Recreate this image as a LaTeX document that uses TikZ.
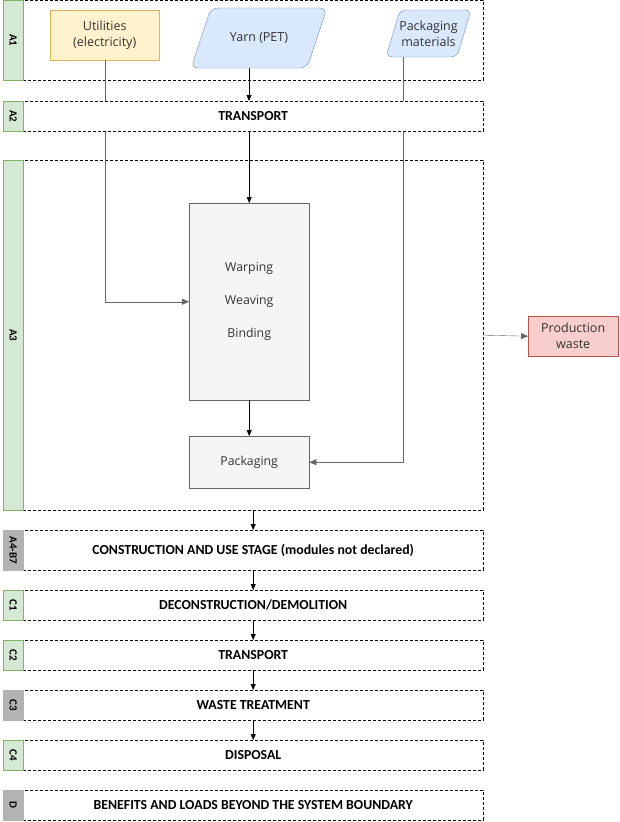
\documentclass[tikz,border=0pt]{standalone}
\usepackage{fontspec}
\setmainfont{Open Sans}
\newfontfamily\stagefont{Carlito}
\usetikzlibrary{arrows.meta}
\definecolor{tabgreen}{HTML}{D5E8D4}
\definecolor{tabgreenline}{HTML}{82B366}
\definecolor{tabgray}{HTML}{B3B3B3}
\definecolor{utilfill}{HTML}{FFF2CC}
\definecolor{utilline}{HTML}{D6B656}
\definecolor{bluefill}{HTML}{DAE8FC}
\definecolor{blueline}{HTML}{6C8EBF}
\definecolor{procfill}{HTML}{F5F5F5}
\definecolor{procline}{HTML}{666666}
\definecolor{redfill}{HTML}{F8CECC}
\definecolor{redline}{HTML}{B85450}
\definecolor{txtgray}{HTML}{333333}
\begin{document}
\begin{tikzpicture}[x=1pt,y=-1pt,
  stagebox/.style={draw, dash pattern=on 3pt off 2pt, fill=white, minimum width=460pt, inner sep=0pt, anchor=north west, font=\stagefont\bfseries\fontsize{13.8}{16}\selectfont},
  areabox/.style={draw, dash pattern=on 3pt off 2pt, fill=white, minimum width=460pt, inner sep=0pt, anchor=north west},
  tabg/.style={draw=tabgreenline, fill=tabgreen, minimum width=20pt, inner sep=0pt, anchor=north west},
  tabk/.style={draw=tabgray, fill=tabgray, minimum width=20pt, inner sep=0pt, anchor=north west},
  tablabel/.style={rotate=-90, font=\stagefont\bfseries\fontsize{11}{12}\selectfont, inner sep=0pt},
  procbox/.style={draw=procline, fill=procfill, minimum width=120pt, inner sep=0pt, text=txtgray, font=\fontsize{12.3}{33}\selectfont, align=center},
  inlabel/.style={text=txtgray, font=\fontsize{12.5}{16}\selectfont, align=center, inner sep=0pt},
  blk/.style={-{Triangle[length=6pt,width=5pt]}, black},
  gry/.style={-{Triangle[length=7pt,width=6pt]}, procline}
]
\useasboundingbox (0,0) rectangle (619,822);

% A1
\node[areabox, minimum height=80pt] (a1) at (23,0) {};
\node[tabg, minimum height=80pt] (t1) at (3,0) {};
\node[tablabel] at (t1.center) {A1};
% A3
\node[areabox, minimum height=350pt] (a3) at (23,160) {};
\node[tabg, minimum height=350pt] (t3) at (3,160) {};
\node[tablabel] at (t3.center) {A3};

% inputs
\node[draw=utilline, fill=utilfill, minimum width=109pt, minimum height=50pt, inner sep=0pt, anchor=north west] (util) at (50,10) {};
\node[inlabel] at (util.center) {Utilities\\(electricity)};
\draw[draw=blueline, fill=bluefill, rounded corners=7pt] (191,68) -- (307,68) -- (327,8) -- (211,8) -- cycle;
\node[inlabel] (yarn) at (259,38) {Yarn (PET)};
\coordinate (yarnout) at (249,68);
\draw[draw=blueline, fill=bluefill, rounded corners=6pt] (386,57) -- (457,57) -- (471,10) -- (400,10) -- cycle;
\node[inlabel] (pm) at (428.5,33.5) {Packaging\\materials};
\coordinate (pmout) at (403,57);

% process
\node[procbox, minimum height=197pt, anchor=north west] (proc) at (189,203) {Warping\\Weaving\\Binding};
\node[procbox, minimum height=52pt, anchor=north west] (pack) at (189,436) {Packaging};
\node[draw=redline, fill=redfill, minimum width=90pt, minimum height=40pt, inner sep=0pt, anchor=north west] (waste) at (528,316) {};
\node[inlabel] at (waste.center) {Production\\waste};

% gray connectors
\draw[gry] (util.south) |- (proc.west);
\draw[gry] (pmout) |- (pack.east);
\draw[gry] (a3.east) -- (waste.west);

% A2
\node[stagebox, minimum height=30pt] (a2) at (23,101) {TRANSPORT};
\node[tabg, minimum height=30pt] (t2) at (3,101) {};
\node[tablabel] at (t2.center) {A2};

\draw[blk] (yarnout) -- (yarnout |- a2.north);
\draw[blk] (proc.north |- a2.south) -- (proc.north);
\draw[blk] (proc.south) -- (pack.north);

% later stages
\node[stagebox, minimum height=40pt] (a4) at (23,530) {CONSTRUCTION AND USE STAGE (modules not declared)};
\node[tabk, minimum height=40pt] (t4) at (3,530) {};
\node[tablabel] at (t4.center) {A4-B7};
\node[stagebox, minimum height=30pt] (c1) at (23,590) {DECONSTRUCTION/DEMOLITION};
\node[tabg, minimum height=30pt] (tc1) at (3,590) {};
\node[tablabel] at (tc1.center) {C1};
\node[stagebox, minimum height=30pt] (c2) at (23,640) {TRANSPORT};
\node[tabg, minimum height=30pt] (tc2) at (3,640) {};
\node[tablabel] at (tc2.center) {C2};
\node[stagebox, minimum height=30pt] (c3) at (23,690) {WASTE TREATMENT};
\node[tabk, minimum height=30pt] (tc3) at (3,690) {};
\node[tablabel] at (tc3.center) {C3};
\node[stagebox, minimum height=30pt] (c4) at (23,740) {DISPOSAL};
\node[tabg, minimum height=30pt] (tc4) at (3,740) {};
\node[tablabel] at (tc4.center) {C4};
\node[stagebox, minimum height=30pt] (d) at (23,790) {BENEFITS AND LOADS BEYOND THE SYSTEM BOUNDARY};
\node[tabk, minimum height=30pt] (td) at (3,790) {};
\node[tablabel] at (td.center) {D};

\draw[blk] (a3.south) -- (a4.north);
\draw[blk] (a4.south) -- (c1.north);
\draw[blk] (c1.south) -- (c2.north);
\draw[blk] (c2.south) -- (c3.north);
\draw[blk] (c3.south) -- (c4.north);
\end{tikzpicture}
\end{document}
